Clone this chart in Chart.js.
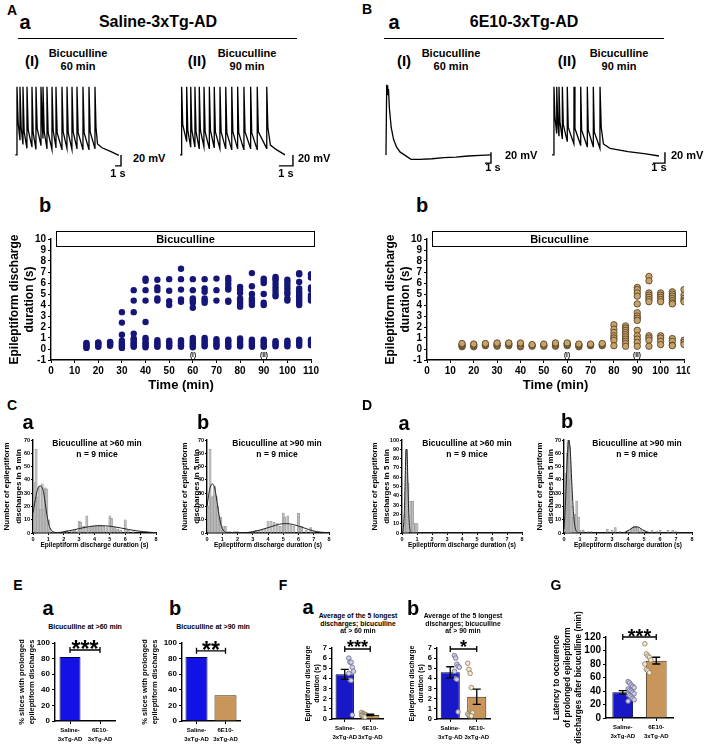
<!DOCTYPE html>
<html>
<head>
<script src="https://cdn.jsdelivr.net/npm/chart.js"></script>
<style>
  body { margin: 0; background: #fff; }
  #fig { position: relative; width: 708px; height: 750px; overflow: hidden;
         font-family: "Liberation Sans", Arial, sans-serif; font-weight: bold; color: #000; }
  #fig canvas { position: absolute; }
  .t { position: absolute; white-space: nowrap; line-height: 1; transform: translate(-50%, -50%); }
  .t.l { transform: translate(0, -50%); }
  .rule { position: absolute; height: 0; border-top: 1px solid #000; }
  .box { position: absolute; box-sizing: border-box; border: 1px solid #000; font-size: 11px;
         display: flex; align-items: center; justify-content: center; }
</style>
</head>
<body>
<div id="fig"></div>
<script>
// ---------- traces (time s, potential mV) ----------
const spikePeak = 124;
const a1Spikes = [0.33, 0.83, 1.33, 2.0, 2.83, 3.5, 4.33, 4.67, 5.33, 6.17, 6.83, 7.83, 8.67, 9.5, 10.33, 11.33, 12.33, 13.33];
const a1Troughs = [28, 20, 12, 15, 10, 18, 30, 12, 10, 14, 10, 12, 10, 12, 10, 10, 12];
const a1Tail = [[13.5, 50], [13.75, 20], [14.5, 13], [16, 6], [17.3, -1]];
const a2Spikes = [0.26, 0.62, 0.91, 1.21, 1.52, 1.86, 2.24, 2.59, 3.0, 3.41, 3.84, 4.26, 4.71, 5.19, 5.66, 6.34];
const a2Troughs = [25, 15, 15, 12, 15, 12, 14, 12, 12, 10, 12, 10, 12, 10, 12];
const a2Tail = [[6.42, 50], [6.6, 18], [7.0, 10], [7.64, 0]];
const b1Trace = [[0.33, 0], [0.45, 128], [0.52, 110], [0.6, 127], [0.68, 112], [0.75, 120], [0.9, 85], [1.2, 50],
  [1.6, 28], [2.1, 14], [2.7, 5], [3.4, 0], [4.5, -8], [6, -8], [8, -7], [10, -5], [12, -4], [14, -2], [16, -1], [17.8, 0]];
const b2Spikes = [0.33, 0.56, 0.75, 1.03, 1.44, 2.0, 2.56, 3.11, 3.61, 4.17];
const b2Troughs = [40, 35, 30, 25, 20, 18, 15, 15, 12];
const b2Tail = [[4.27, 50], [4.45, 20], [5.0, 12], [6.5, 6], [8, 2], [9.08, -2]];

// ---------- discharge durations over time (s) ----------
const scatterTimes = [15, 20, 25, 30, 35, 40, 45, 50, 55, 60, 65, 70, 75, 80, 85, 90, 95, 100, 105, 110];
const salineDur = [
  [0.1, 0.2, 0.3, 0.45, 0.55],
  [0.2, 0.3, 0.45, 0.55, 0.6],
  [0.3, 0.4, 0.5, 0.6, 0.65],
  [3.35, 2.4, 1.3, 0.75, 0.6, 0.45, 0.3, 0.2, 0.1],
  [5.35, 4.4, 3.35, 1.4, 0.95, 0.8, 0.6, 0.45, 0.3, 0.2],
  [6.4, 6.2, 5.35, 4.4, 2.45, 1.0, 0.85, 0.6, 0.45, 0.3, 0.15],
  [6.3, 5.6, 5.35, 4.6, 4.4, 0.8, 0.6, 0.45, 0.3, 0.2],
  [6.35, 5.3, 4.35, 4.0, 0.75, 0.6, 0.45, 0.3, 0.2],
  [7.3, 6.35, 5.4, 4.5, 4.3, 0.8, 0.65, 0.5, 0.35, 0.2],
  [6.35, 5.35, 4.6, 4.4, 4.2, 3.75, 1.0, 0.8, 0.6, 0.45, 0.3, 0.15],
  [6.35, 5.5, 5.2, 4.6, 4.4, 4.2, 1.0, 0.8, 0.6, 0.4, 0.25],
  [6.4, 5.35, 4.4, 0.9, 0.7, 0.5, 0.35, 0.2],
  [6.45, 6.2, 5.9, 5.6, 5.4, 4.4, 4.3, 0.85, 0.7, 0.5, 0.3, 0.2],
  [5.65, 5.4, 5.1, 4.6, 4.4, 4.2, 4.0, 3.85, 0.95, 0.8, 0.6, 0.4, 0.25],
  [6.9, 5.7, 5.0, 4.6, 4.4, 4.2, 4.0, 0.85, 0.7, 0.5, 0.3, 0.2],
  [6.4, 6.2, 6.0, 5.0, 4.2, 4.0, 0.85, 0.7, 0.5, 0.3, 0.2],
  [6.55, 6.4, 6.2, 5.9, 5.6, 5.3, 5.0, 4.8, 0.7, 0.55, 0.4, 0.25],
  [6.3, 6.1, 5.8, 5.5, 5.2, 5.0, 4.6, 4.4, 0.75, 0.6, 0.4, 0.25],
  [6.9, 6.8, 6.1, 5.5, 5.2, 5.0, 4.8, 4.6, 4.4, 4.2, 4.0, 0.85, 0.7, 0.5, 0.3],
  [6.8, 6.5, 5.6, 5.4, 4.9, 4.7, 4.5, 4.4, 0.85, 0.7, 0.5, 0.35]
];
const e10Dur = [
  [0.2, 0.3, 0.4, 0.5],
  [0.2, 0.3, 0.4, 0.45],
  [0.3, 0.4, 0.5],
  [0.25, 0.35, 0.45, 0.55],
  [0.3, 0.4, 0.5, 0.55],
  [0.2, 0.3, 0.45, 0.55],
  [0.25, 0.35, 0.4],
  [0.25, 0.35, 0.45],
  [0.25, 0.35, 0.45, 0.55],
  [0.3, 0.4, 0.5, 0.55],
  [0.2, 0.3, 0.4, 0.45],
  [0.3, 0.4, 0.45],
  [0.3, 0.4, 0.5],
  [2.2, 1.8, 1.5, 1.2, 1.0, 0.8, 0.3],
  [2.1, 1.9, 1.7, 1.5, 1.3, 1.1, 0.9, 0.7, 0.5, 0.25],
  [5.6, 5.4, 5.1, 4.8, 4.1, 3.3, 3.0, 2.8, 2.6, 1.7, 1.2, 0.9, 0.6, 0.25],
  [6.6, 6.2, 5.1, 4.9, 4.7, 4.5, 4.3, 1.2, 1.0, 0.8, 0.25],
  [5.1, 4.9, 4.7, 4.5, 4.3, 1.2, 1.0, 0.7, 0.4],
  [5.2, 5.0, 4.8, 4.6, 4.4, 4.2, 4.1, 0.95, 0.7, 0.35, 0.3],
  [5.4, 4.9, 4.6, 4.4, 4.3, 0.8, 0.6, 0.4]
];

// ---------- histograms [duration s, count] and fitted curves ----------
const histCa = [[0.1, 38], [0.2, 63], [0.3, 27], [0.4, 35], [0.5, 18], [0.6, 37], [0.7, 18], [0.8, 34], [0.9, 33], [1.0, 10],
  [1.1, 3], [1.3, 1], [2.0, 1], [2.2, 2], [2.5, 1], [2.7, 3], [2.9, 1], [3.0, 9], [3.1, 8], [3.3, 5], [3.5, 13], [3.6, 4],
  [3.8, 5], [4.0, 5], [4.2, 6], [4.4, 6], [4.6, 5], [4.8, 4], [5.0, 13], [5.1, 11], [5.3, 4], [5.5, 3], [5.7, 2], [6.0, 10],
  [6.2, 2], [6.5, 1]];
const fitCa = [[0, 15], [0.1, 22], [0.2, 28], [0.3, 33], [0.45, 35.5], [0.6, 34], [0.7, 30], [0.8, 22], [0.9, 14], [1.0, 8],
  [1.1, 4], [1.3, 1], [1.5, 0.3], [1.8, 0.5], [2.2, 1.3], [2.7, 2.5], [3.2, 3.8], [3.7, 4.9], [4.2, 5.5], [4.7, 5.4],
  [5.2, 4.8], [5.7, 3.8], [6.2, 2.7], [6.7, 1.7], [7.2, 1.0], [7.7, 0.5], [8, 0.3]];
const histCb = [[0.1, 20], [0.2, 63], [0.3, 27], [0.4, 28], [0.5, 35], [0.6, 28], [0.7, 20], [0.8, 10], [0.9, 12], [1.0, 5],
  [1.1, 3], [1.2, 5], [1.3, 1], [1.5, 1], [1.8, 1], [2.0, 1], [3.0, 1], [3.2, 2], [3.4, 2], [3.6, 3], [3.8, 3], [4.0, 9],
  [4.2, 9], [4.4, 8], [4.6, 7], [4.8, 5], [5.0, 15], [5.1, 12], [5.3, 13], [5.5, 6], [5.7, 5], [6.0, 15], [6.2, 5],
  [6.5, 2], [6.8, 4], [7.0, 1]];
const fitCb = [[0, 20], [0.1, 28], [0.2, 34], [0.35, 37], [0.5, 34], [0.6, 28], [0.7, 20], [0.8, 13], [0.9, 7], [1.0, 3.5],
  [1.1, 1.5], [1.3, 0.3], [2.5, 0.3], [3.0, 1], [3.5, 2.3], [4.0, 4], [4.5, 5.8], [5.0, 7], [5.3, 7], [5.7, 6.2],
  [6.2, 4.5], [6.7, 2.5], [7.2, 1], [7.7, 0.4], [8, 0.2]];
const histDa = [[0.1, 10], [0.2, 20], [0.3, 90], [0.4, 54], [0.6, 34], [0.7, 34], [0.8, 10], [0.9, 10], [1.0, 10]];
const fitDa = [[0.05, 0], [0.15, 20], [0.2, 50], [0.25, 82], [0.3, 90], [0.35, 80], [0.4, 50], [0.45, 22], [0.5, 7],
  [0.6, 0.5], [0.8, 0], [8, 0]];
const histDb = [[0.1, 5], [0.15, 45], [0.2, 60], [0.25, 70], [0.3, 68], [0.35, 65], [0.4, 40], [0.5, 20], [0.6, 12],
  [0.7, 14], [0.8, 24], [0.9, 12], [1.0, 2], [1.2, 2], [1.5, 1], [1.7, 1], [2.7, 3], [3.0, 2], [3.2, 4], [3.5, 1],
  [4.0, 2], [4.2, 3], [4.3, 4], [4.4, 5], [4.5, 5], [4.6, 4], [4.8, 3], [5.0, 2], [5.5, 2], [5.8, 1], [6.0, 2],
  [6.5, 2], [6.8, 2], [7.0, 1]];
const fitDb = [[0, 3], [0.1, 25], [0.2, 55], [0.3, 70], [0.4, 60], [0.5, 35], [0.6, 14], [0.7, 4], [0.8, 1], [1.0, 0],
  [3.5, 0], [3.8, 0.5], [4.1, 2.5], [4.4, 4.5], [4.6, 4.5], [4.9, 2.5], [5.2, 0.8], [5.6, 0], [8, 0]];

// ---------- group summaries ----------
const groups = [['Saline-', '3xTg-AD'], ['6E10-', '3xTg-AD']];
const pctProlonged60 = [82, 0];
const pctProlonged90 = [82, 33];
const longest60Mean = [4.4, 0.4];
const longest60Sem = [0.5, 0.07];
const longest60Saline = [6.0, 5.6, 5.6, 5.1, 4.7, 4.5, 3.85, 3.8, 0.4];
const longest60E10 = [0.65, 0.55, 0.5, 0.45, 0.4, 0.35, 0.3, 0.25, 0.2];
const longest90Mean = [4.6, 2.2];
const longest90Sem = [0.55, 0.75];
const longest90Saline = [6.25, 6.0, 5.4, 5.2, 5.1, 4.7, 4.0, 3.9, 0.7];
const longest90E10 = [5.5, 4.9, 4.5, 3.1, 0.6, 0.5, 0.4, 0.35, 0.3];
const latencyMean = [38, 85];
const latencySem = [2.5, 5];
const latencySaline = [54, 52, 49, 47, 45, 43, 41, 40, 38, 36, 35, 33, 31, 29, 27, 25];
const latencyE10 = [110, 95, 92, 90, 86, 80, 72, 70, 67];

// ---------- setup ----------
const FONT = '"Liberation Sans", Arial, sans-serif';
Chart.defaults.font.family = FONT;
Chart.defaults.font.weight = 'bold';
Chart.defaults.color = '#000';
Chart.defaults.animation = false;
Chart.defaults.plugins.legend.display = false;
Chart.defaults.plugins.tooltip.enabled = false;

const BLUE = '#1212e6', NAVY = '#15157a', TAN = '#c8965a';
const fig = document.getElementById('fig');

function canvasAt(left, top, w, h) {
  const c = document.createElement('canvas');
  c.width = w; c.height = h;
  c.style.left = left + 'px'; c.style.top = top + 'px';
  c.style.width = w + 'px'; c.style.height = h + 'px';
  fig.appendChild(c);
  return c;
}

function txt(s, x, y, size, left) {
  const d = document.createElement('div');
  d.className = left ? 't l' : 't';
  d.textContent = s;
  d.style.left = x + 'px'; d.style.top = y + 'px'; d.style.fontSize = size + 'px';
  fig.appendChild(d);
}

function rule(x, y, w) {
  const d = document.createElement('div');
  d.className = 'rule';
  d.style.left = x + 'px'; d.style.top = y + 'px'; d.style.width = w + 'px';
  fig.appendChild(d);
}

function box(s, x, y, w, h) {
  const d = document.createElement('div');
  d.className = 'box';
  d.textContent = s;
  d.style.left = x + 'px'; d.style.top = y + 'px'; d.style.width = w + 'px'; d.style.height = h + 'px';
  fig.appendChild(d);
}

// draws error bars, significance brackets and trace scale bars in data units
const overlay = {
  id: 'overlay',
  afterDatasetsDraw(chart, args, o) {
    const ctx = chart.ctx, x = chart.scales.x, y = chart.scales.y;
    ctx.save();
    ctx.strokeStyle = '#000'; ctx.fillStyle = '#000'; ctx.lineWidth = 1.3;
    if (o.mean) {
      o.mean.forEach((m, i) => {
        const px = x.getPixelForValue(i), cap = o.cap || 4;
        const y1 = y.getPixelForValue(m - o.sem[i]), y2 = y.getPixelForValue(m + o.sem[i]);
        ctx.beginPath();
        ctx.moveTo(px, y1); ctx.lineTo(px, y2);
        ctx.moveTo(px - cap, y1); ctx.lineTo(px + cap, y1);
        ctx.moveTo(px - cap, y2); ctx.lineTo(px + cap, y2);
        ctx.stroke();
      });
    }
    if (o.sig) {
      const xa = x.getPixelForValue(0), xb = x.getPixelForValue(1), py = y.getPixelForValue(o.sig.at);
      ctx.beginPath();
      ctx.moveTo(xa, py); ctx.lineTo(xb, py);
      ctx.moveTo(xa, py - 3); ctx.lineTo(xa, py + 3);
      ctx.moveTo(xb, py - 3); ctx.lineTo(xb, py + 3);
      ctx.stroke();
      ctx.font = 'bold ' + o.sig.size + 'px ' + FONT;
      ctx.textAlign = 'center'; ctx.textBaseline = 'alphabetic';
      ctx.fillText(o.sig.text, (xa + xb) / 2, py - 6 + 0.575 * o.sig.size);
    }
    if (o.bar) {
      const b = o.bar;
      ctx.lineWidth = 1.4;
      ctx.beginPath();
      ctx.moveTo(x.getPixelForValue(b.t), y.getPixelForValue(b.top));
      ctx.lineTo(x.getPixelForValue(b.t), y.getPixelForValue(b.top - 20));
      ctx.lineTo(x.getPixelForValue(b.t - 1), y.getPixelForValue(b.top - 20));
      ctx.stroke();
    }
    ctx.restore();
  }
};

function lin(min, max, step, size, extra, tick) {
  return Object.assign({
    type: 'linear', min, max, offset: false,
    ticks: { stepSize: step, autoSkip: false, maxRotation: 0, padding: tick ? 1 : 2, font: { size, weight: 'bold' } },
    grid: { drawOnChartArea: false, offset: false, tickLength: tick || 3, color: '#000', lineWidth: 1 },
    border: { color: '#000', width: 1.4 }
  }, extra || {});
}

function yTitle(lines, size, lh, pad) {
  return { display: true, text: lines, font: { size, weight: 'bold', lineHeight: lh }, padding: { top: pad, bottom: 0 } };
}

// plot = chart area in page px, m = room around it for ticks and titles
function panel(plot, m, cfg) {
  const c = canvasAt(plot.l - m.l, plot.t - m.t, plot.r - plot.l + m.l + m.r, plot.b - plot.t + m.t + m.b);
  cfg.options.responsive = false;
  cfg.options.maintainAspectRatio = false;
  cfg.options.layout = { padding: { left: 0, top: m.t, right: m.r, bottom: 0 } };
  cfg.options.scales.x.afterFit = s => { s.height = m.b; s.paddingLeft = 0; s.paddingRight = 0; };
  cfg.options.scales.y.afterFit = s => { s.width = m.l; s.paddingTop = 0; s.paddingBottom = 0; };
  cfg.plugins = [overlay];
  return new Chart(c, cfg);
}

// ---------- A/B a: traces ----------
function buildTrace(start, spikes, troughs, tail, knee) {
  const pts = [start];
  spikes.forEach((t, i) => {
    const lo = i === 0 ? start[1] : troughs[i - 1];
    pts.push([t - 0.01, lo], [t, spikePeak]);
    if (i < troughs.length) pts.push([t + knee, troughs[i] + 30]);
  });
  tail.forEach(p => pts.push(p));
  return pts;
}

function traceChart(left, width, pxPerS, pts, bar) {
  const c = canvasAt(left, 80, width, 90);
  new Chart(c, {
    type: 'line',
    data: { datasets: [{ data: pts.map(([x, y]) => ({ x, y })), borderColor: '#000', borderWidth: 1.3, pointRadius: 0, tension: 0 }] },
    options: {
      responsive: false,
      layout: { padding: 0 },
      scales: {
        x: { type: 'linear', display: false, min: 0, max: width / pxPerS },
        y: { type: 'linear', display: false, min: -27.5, max: 136.5 }
      },
      plugins: { overlay: { bar } }
    },
    plugins: [overlay]
  });
}

traceChart(15, 110, 6, buildTrace([0.05, 0], a1Spikes, a1Troughs, a1Tail, 0.2), { t: 17.67, top: 0 });
traceChart(178, 118, 14, buildTrace([0.14, 0], a2Spikes, a2Troughs, a2Tail, 0.08), { t: 8.21, top: 0 });
traceChart(384, 114, 6, b1Trace, { t: 17.83, top: 5 });
traceChart(550, 118, 12, buildTrace([0.17, 0], b2Spikes, b2Troughs, b2Tail, 0.08), { t: 9.58, top: 5 });

// ---------- A/B b: durations over time ----------
function durationChart(plot, m, groupsDur, style) {
  const pts = [];
  scatterTimes.forEach((t, i) => groupsDur[i].forEach(v => pts.push({ x: t, y: v })));
  panel(plot, m, {
    type: 'scatter',
    data: { datasets: [Object.assign({ data: pts, pointRadius: 3.2 }, style)] },
    options: {
      scales: {
        x: lin(0, 110, 10, 10, { title: { display: true, text: 'Time (min)', font: { size: 13, weight: 'bold' }, padding: { top: 0, bottom: 2 } } }),
        y: lin(-1, 10, 1, 10, { title: yTitle(['Epileptiform discharge', 'duration (s)'], 12, 1.25, 3.5) })
      }
    }
  });
}

durationChart({ l: 51, t: 239, r: 311, b: 360 }, { l: 47, t: 17, r: 9, b: 35 }, salineDur,
  { backgroundColor: NAVY, borderColor: NAVY, borderWidth: 0 });
durationChart({ l: 427, t: 239, r: 684, b: 360 }, { l: 47, t: 17, r: 6, b: 35 }, e10Dur,
  { backgroundColor: '#c9a26a', borderColor: '#4a3a20', borderWidth: 0.8 });

// ---------- C/D: histograms ----------
function histChart(plot, m, hist, fit, yMax, pad, lh) {
  panel(plot, m, {
    type: 'bar',
    data: {
      datasets: [
        { type: 'line', order: 0, data: fit.map(([x, y]) => ({ x, y })), borderColor: '#222', borderWidth: 1,
          pointRadius: 0, cubicInterpolationMode: 'monotone' },
        { order: 1, grouped: false, data: hist.map(([x, y]) => ({ x, y })), backgroundColor: '#bdbdbd',
          borderColor: '#8a8a8a', borderWidth: 0.5, barThickness: 2.2 }
      ]
    },
    options: {
      scales: {
        x: lin(0, 8, 1, 5.5, { title: { display: true, text: 'Epileptiform discharge duration (s)', font: { size: 6.5, weight: 'bold' }, padding: { top: 0, bottom: 1 } } }, 2),
        y: lin(0, yMax, 10, 5.5, { title: yTitle(['Number of epileptiform', 'discharges in 5 min'], 8, lh || 1.45, pad) }, 2)
      }
    }
  });
}

histChart({ l: 33, t: 440, r: 156, b: 533 }, { l: 33, t: 10, r: 6, b: 17 }, histCa, fitCa, 70, 1.2);
histChart({ l: 207, t: 440, r: 329, b: 533 }, { l: 31, t: 10, r: 6, b: 17 }, histCb, fitCb, 70, 3.2);
histChart({ l: 402, t: 440, r: 522, b: 533 }, { l: 38, t: 10, r: 6, b: 17 }, histDa, fitDa, 100, 5.2);
histChart({ l: 564, t: 440, r: 692, b: 533 }, { l: 30, t: 10, r: 6, b: 17 }, histDb, fitDb, 70, 1, 1.3);

// ---------- E/F/G: group bars ----------
function jitter(vals, g) {
  return vals.map((v, i) => ({ x: g + ((i % 5) - 2) * 0.09, y: v }));
}

function groupChart(plot, m, spec) {
  const datasets = [{
    order: 1, grouped: false, data: spec.values, barPercentage: spec.barPct, categoryPercentage: 1,
    backgroundColor: [spec.blue, TAN], borderColor: ['#00003c', '#3a2a10'], borderWidth: 1
  }];
  if (spec.points) {
    datasets.unshift(
      { type: 'scatter', order: 0, xAxisID: 'xj', data: jitter(spec.points[0], 0), pointRadius: 2.3,
        backgroundColor: '#cfcfe8', borderColor: '#6a6a92', borderWidth: 0.8 },
      { type: 'scatter', order: 0, xAxisID: 'xj', data: jitter(spec.points[1], 1), pointRadius: 2.3,
        backgroundColor: '#f3e8d2', borderColor: '#8a7a5c', borderWidth: 0.8 });
  }
  panel(plot, m, {
    type: 'bar',
    data: { labels: groups, datasets },
    options: {
      scales: {
        x: {
          type: 'category', offset: true,
          ticks: { autoSkip: false, maxRotation: 0, padding: 2, font: { size: 6, weight: 'bold', lineHeight: 1.5 } },
          grid: { drawOnChartArea: false, offset: false, tickLength: 3, color: '#000' },
          border: { color: '#000', width: 1.4 }
        },
        xj: { type: 'linear', display: false, min: -0.5, max: 1.5 },
        y: lin(0, spec.yMax, spec.step, spec.tick, { title: yTitle(spec.title, spec.tsize, spec.tlh, spec.pad) })
      },
      plugins: { overlay: { mean: spec.mean, sem: spec.sem, sig: spec.sig, cap: 4 } }
    }
  });
}

const pctTitle = ['% slices with prolonged', 'epileptiform discharges'];
groupChart({ l: 55, t: 643, r: 115, b: 721 }, { l: 43, t: 13, r: 5, b: 27 }, {
  values: pctProlonged60, barPct: 0.7, blue: BLUE, yMax: 100, step: 20, tick: 8,
  title: pctTitle, tsize: 7.5, tlh: 1.33, pad: 5, sig: { at: 91, text: '***', size: 23 }
});
groupChart({ l: 182, t: 643, r: 240, b: 721 }, { l: 44, t: 13, r: 5, b: 27 }, {
  values: pctProlonged90, barPct: 0.76, blue: BLUE, yMax: 100, step: 20, tick: 8,
  title: pctTitle, tsize: 7.5, tlh: 1.33, pad: 2, sig: { at: 90, text: '**', size: 23 }
});
const durTitle = ['Epileptiform discharge', 'duration (s)'];
groupChart({ l: 332, t: 648, r: 383, b: 719 }, { l: 34, t: 16, r: 5, b: 29 }, {
  values: longest60Mean, mean: longest60Mean, sem: longest60Sem, points: [longest60Saline, longest60E10],
  barPct: 0.72, blue: '#1818c8', yMax: 7, step: 1, tick: 7.5,
  title: durTitle, tsize: 7, tlh: 1.3, pad: 5.5, sig: { at: 6.9, text: '***', size: 18 }
});
groupChart({ l: 437, t: 648, r: 490, b: 719 }, { l: 34, t: 16, r: 5, b: 29 }, {
  values: longest90Mean, mean: longest90Mean, sem: longest90Sem, points: [longest90Saline, longest90E10],
  barPct: 0.72, blue: '#1818c8', yMax: 7, step: 1, tick: 7.5,
  title: durTitle, tsize: 7, tlh: 1.3, pad: 4.5, sig: { at: 6.9, text: '*', size: 18 }
});
groupChart({ l: 606, t: 637, r: 673, b: 718 }, { l: 58, t: 45, r: 5, b: 32 }, {
  values: latencyMean, mean: latencyMean, sem: latencySem, points: [latencySaline, latencyE10],
  barPct: 0.62, blue: '#1818c8', yMax: 120, step: 20, tick: 10,
  title: ['Latency to occurence', 'of prolonged epileptiform', 'discharges after bicuculline (min)'],
  tsize: 8.3, tlh: 1.3, pad: 3.5, sig: { at: 120, text: '***', size: 20 }
});

// ---------- text ----------
txt('A', 12, 10, 14);
txt('a', 25, 22, 20); txt('Saline-3xTg-AD', 158, 22, 16); rule(18, 38, 279);
txt('(I)', 32, 60, 15); txt('Bicuculline', 78, 53, 11); txt('60 min', 78, 66, 11);
txt('(II)', 197, 60, 15); txt('Bicuculline', 247, 53, 11); txt('90 min', 247, 66, 11);
txt('20 mV', 133, 158, 11, true); txt('1 s', 118, 173, 11);
txt('20 mV', 298, 158, 11, true); txt('1 s', 286, 173, 11);

txt('B', 367, 9, 14);
txt('a', 394, 22, 20); txt('6E10-3xTg-AD', 524, 22, 16); rule(384, 38, 280);
txt('(I)', 404, 60, 15); txt('Bicuculline', 451, 53, 11); txt('60 min', 451, 66, 11);
txt('(II)', 567, 60, 15); txt('Bicuculline', 619, 53, 11); txt('90 min', 619, 66, 11);
txt('20 mV', 505, 155, 11, true); txt('1 s', 493, 167, 11);
txt('20 mV', 671, 155, 11, true); txt('1 s', 659, 167, 11);

txt('b', 45, 205, 20); box('Bicuculline', 56, 231, 259, 16);
txt('(I)', 193, 355, 6.5); txt('(II)', 264, 355, 6.5);
txt('b', 422, 205, 20); box('Bicuculline', 432, 231, 255, 16);
txt('(I)', 567, 355, 6.5); txt('(II)', 637, 355, 6.5);

txt('C', 12, 405, 14);
txt('a', 28, 422, 20); txt('Bicuculline at >60 min', 97, 443, 8.5); txt('n = 9 mice', 97, 454, 8.5);
txt('b', 203, 422, 20); txt('Bicuculline at >90 min', 277, 443, 8.5); txt('n = 9 mice', 277, 454, 8.5);
txt('D', 367, 405, 14);
txt('a', 404, 423, 20); txt('Bicuculline at >60 min', 467, 443, 8.5); txt('n = 9 mice', 467, 454, 8.5);
txt('b', 567, 421, 20); txt('Bicuculline at >90 min', 637, 443, 8.5); txt('n = 9 mice', 637, 454, 8.5);

txt('E', 18, 585, 14);
txt('a', 48, 608, 20); txt('Bicuculline at >60 min', 85, 626, 7);
txt('b', 175, 608, 20); txt('Bicuculline at >90 min', 213, 626, 7);
txt('F', 283, 585, 14);
txt('a', 308, 607, 20);
txt('Average of the 5 longest', 358, 616, 6.8); txt('discharges; bicuculline', 358, 623.5, 6.8); txt('at > 60 min', 358, 631, 6.8);
txt('b', 413, 608, 20);
txt('Average of the 5 longest', 463, 616, 6.8); txt('discharges; bicuculline', 463, 623.5, 6.8); txt('at > 90 min', 463, 631, 6.8);
txt('G', 556, 585, 14);
</script>
</body>
</html>
